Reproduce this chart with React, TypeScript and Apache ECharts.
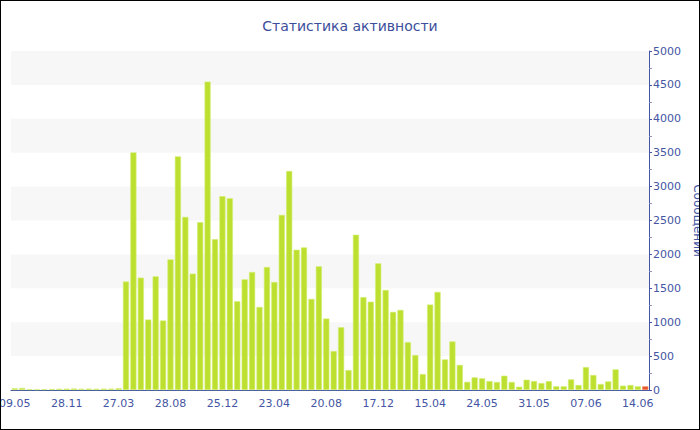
import React, { useEffect, useRef } from "react";
import * as echarts from "echarts";

const categories: string[] = [
  "09.05", "16.06", "04.07", "01.08", "29.08", "26.09", "24.10", "28.11", "15.12", "01.01",
  "18.01", "04.02", "21.02", "10.03", "27.03", "20.04", "13.05", "17.06", "07.07", "27.07",
  "11.08", "28.08", "14.09", "01.10", "18.10", "04.11", "21.11", "08.12", "25.12", "11.01",
  "28.01", "14.02", "03.03", "20.03", "06.04", "23.04", "10.05", "22.05", "19.06", "30.06",
  "17.07", "03.08", "20.08", "06.09", "23.09", "10.10", "27.10", "13.11", "30.11", "17.12",
  "03.01", "20.01", "06.02", "23.02", "12.03", "29.03", "15.04", "21.04", "27.04", "03.05",
  "08.05", "15.05", "20.05", "24.05", "25.05", "26.05", "27.05", "28.05", "29.05", "30.05",
  "31.05", "01.06", "02.06", "03.06", "04.06", "05.06", "06.06", "07.06", "08.06", "09.06",
  "10.06", "11.06", "12.06", "13.06", "14.06", "15.06",
];

const messages: number[] = [
  25, 30, 12, 10, 12, 15, 18, 20, 22, 18,
  20, 18, 20, 20, 25, 1600, 3505, 1657, 1039, 1676,
  1025, 1926, 3446, 2554, 1716, 2475, 4549, 2225, 2858, 2828,
  1309, 1632, 1740, 1225, 1814, 1593, 2583, 3230, 2069, 2103,
  1343, 1824, 1054, 574, 926, 294, 2289, 1370, 1302, 1868,
  1475, 1152, 1181, 706, 515, 235, 1260, 1446, 451, 716,
  370, 120, 186, 172, 132, 118, 211, 118, 49, 152,
  132, 103, 132, 54, 54, 157, 74, 338, 221, 88,
  127, 304, 64, 74, 54, 54,
];

// the current (incomplete) day is highlighted
const highlightedCategory = "15.06";

const yTicks = { min: 0, max: 5000, interval: 500 };

const BLUE = "#4455a3";

export default function App() {
  const ref = useRef<HTMLDivElement>(null);

  useEffect(() => {
    if (!ref.current) return;
    const chart = echarts.init(ref.current, undefined, { renderer: "svg" });
    chart.setOption({
      animation: false,
      backgroundColor: "#ffffff",
      title: {
        text: "Статистика активности",
        left: "center",
        top: 14,
        textStyle: {
          fontFamily: "DejaVu Sans",
          fontSize: 14,
          fontWeight: "normal",
          color: "#3b4d9b",
        },
      },
      grid: { left: 11, right: 51, top: 51, bottom: 40, containLabel: false, outerBoundsMode: "none" },
      xAxis: {
        type: "category",
        data: categories,
        boundaryGap: true,
        axisLine: { lineStyle: { color: BLUE, width: 1 } },
        axisTick: {
          alignWithLabel: true,
          interval: 6,
          length: 4,
          lineStyle: { color: "#8a93c0" },
        },
        axisLabel: {
          interval: 6,
          hideOverlap: false,
          fontFamily: "DejaVu Sans",
          fontSize: 11,
          color: BLUE,
          margin: 8,
        },
        splitLine: { show: false },
      },
      yAxis: {
        type: "value",
        position: "right",
        min: yTicks.min,
        max: yTicks.max,
        interval: yTicks.interval,
        name: "Сообщений",
        nameLocation: "middle",
        nameGap: 43,
        nameRotate: -90,
        nameTextStyle: {
          fontFamily: "DejaVu Sans",
          fontSize: 12,
          color: BLUE,
        },
        axisLine: { show: true, lineStyle: { color: BLUE, width: 1 } },
        axisTick: { show: true, length: 3, lineStyle: { color: BLUE } },
        minorTick: { show: true, splitNumber: 2, length: 3, lineStyle: { color: "#8a93c0" } },
        axisLabel: {
          fontFamily: "DejaVu Sans",
          fontSize: 11,
          color: BLUE,
          margin: 4,
          formatter: (v: number) => String(v),
        },
        splitLine: { show: false },
        splitArea: {
          show: true,
          areaStyle: { color: ["rgba(255,255,255,0)", "#f7f7f7"] },
        },
      },
      series: [
        {
          type: "bar",
          name: "Сообщений",
          barCategoryGap: "18%",
          data: messages.map((v, i) =>
            categories[i] === highlightedCategory
              ? { value: v, itemStyle: { color: "#e8562f", borderColor: "#f08a5a" } }
              : v
          ),
          itemStyle: {
            color: "#bde030",
            borderColor: "#d2ee70",
            borderWidth: 0.6,
          },
        },
      ],
    });
    return () => chart.dispose();
  }, []);

  return (
    <div
      style={{
        position: "fixed",
        left: 0,
        top: 0,
        width: 700,
        height: 430,
        boxSizing: "border-box",
        border: "1px solid #000",
        background: "#fff",
        overflow: "hidden",
      }}
    >
      <div ref={ref} style={{ position: "absolute", left: -1, top: -1, width: 700, height: 430 }} />
    </div>
  );
}
